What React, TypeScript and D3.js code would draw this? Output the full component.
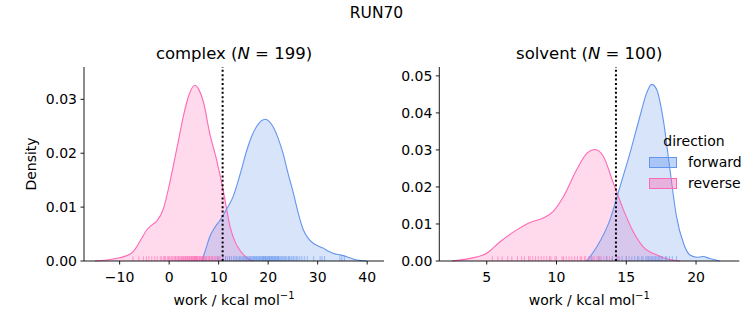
import React from "react";
import * as d3 from "d3";

// ---------- data ----------
const suptitle = "RUN70";
const hueOrder = ["forward", "reverse"];
const hueColors = ["#6495ED", "#FF69B4"];

// complex panel: density curves [work, density]
const complexForwardCurve: [number, number][] = [
  [6.6, 0], [7.4, 0.0022], [8.2, 0.0045], [9.2, 0.0062], [10.3, 0.0076], [11.6, 0.0096],
  [12.9, 0.0119], [14.3, 0.016], [15.7, 0.0206], [16.7, 0.0232], [17.7, 0.025], [18.6, 0.026],
  [19.4, 0.0263], [20.2, 0.0259], [21.0, 0.0249], [22.0, 0.0228], [23.0, 0.02], [24.0, 0.0163],
  [25.1, 0.0126], [26.1, 0.0088], [27.1, 0.0058], [28.1, 0.0042], [29.1, 0.0033], [30.1, 0.0028],
  [31.1, 0.0024], [32.2, 0.0018], [33.2, 0.0014], [34.2, 0.0012], [35.2, 0.001], [36.5, 0.0006],
  [37.9, 0.0002], [39.9, 0],
];
const complexReverseCurve: [number, number][] = [
  [-15, 0], [-12.5, 0.0002], [-10, 0.0006], [-8.5, 0.001], [-7.2, 0.0018], [-5.8, 0.0038],
  [-4.5, 0.0058], [-3.3, 0.0068], [-2.5, 0.0074], [-1.2, 0.0096], [0, 0.014], [0.8, 0.0175],
  [1.8, 0.022], [2.85, 0.0268], [4.0, 0.0308], [5.2, 0.0326], [6.0, 0.0318], [6.9, 0.0296],
  [8.2, 0.0237], [9.6, 0.0187], [10.9, 0.0132], [12.3, 0.0064], [13.3, 0.0036], [14.3, 0.002],
  [15.7, 0.0006], [17, 0],
];
// complex rug samples
const complexForwardRug = [
  9.8, 10.9, 11.4, 11.8, 12.2, 12.6, 13.0, 13.3, 13.6, 13.9, 14.2, 14.4, 14.7, 14.9, 15.1, 15.3,
  15.5, 15.7, 15.9, 16.1, 16.3, 16.4, 16.6, 16.8, 17.0, 17.1, 17.3, 17.4, 17.6, 17.7, 17.9, 18.0,
  18.2, 18.3, 18.5, 18.6, 18.8, 18.9, 19.0, 19.1, 19.3, 19.4, 19.5, 19.6, 19.8, 19.9, 20.1, 20.2,
  20.3, 20.4, 20.6, 20.7, 20.9, 21.0, 21.2, 21.3, 21.5, 21.6, 21.8, 21.9, 22.1, 22.2, 22.4, 22.6,
  22.8, 23.0, 23.2, 23.4, 23.6, 23.8, 24.1, 24.3, 24.6, 24.8, 25.1, 25.4, 25.7, 26.0, 26.4, 26.8,
  27.3, 27.9, 29.2, 30.5, 30.9, 31.4, 34.5, 34.9, 35.4,
];
const complexReverseRug = [
  -7.3, -6.1, -5.2, -4.6, -4.1, -3.5, -2.9, -2.4, -1.8, -1.5, -1.1, -0.9, -0.7, -0.3, -0.1, 0.1,
  0.4, 0.6, 0.8, 1.1, 1.3, 1.4, 1.7, 1.9, 2.0, 2.2, 2.4, 2.5, 2.7, 2.9, 3.0, 3.2, 3.3, 3.4, 3.6,
  3.7, 3.8, 4.0, 4.1, 4.2, 4.4, 4.5, 4.6, 4.7, 4.9, 5.0, 5.1, 5.2, 5.3, 5.4, 5.5, 5.6, 5.7, 5.8,
  6.0, 6.1, 6.2, 6.3, 6.5, 6.6, 6.7, 6.9, 7.0, 7.1, 7.3, 7.5, 7.6, 7.9, 8.1, 8.2, 8.5, 8.7, 8.8,
  9.1, 9.3, 9.5, 9.9, 10.1, 10.3, 10.8, 11.4, 12.2,
];

// solvent panel
const solventForwardCurve: [number, number][] = [
  [12.16, 0], [12.9, 0.0039], [13.83, 0.0111], [14.55, 0.0201], [15.27, 0.0292], [15.98, 0.0391],
  [16.46, 0.0454], [16.82, 0.0477], [17.18, 0.0463], [17.65, 0.0382], [18.13, 0.0247], [18.6, 0.012],
  [19.1, 0.0048], [19.57, 0.0016], [20.05, 0.001], [20.5, 0.0012], [20.97, 0.0007], [21.7, 0],
];
const solventReverseCurve: [number, number][] = [
  [2.5, 0], [3.8, 0.0007], [5.0, 0.0021], [5.95, 0.0052], [7.15, 0.0084], [8.1, 0.0104],
  [9.05, 0.0116], [9.77, 0.0134], [10.5, 0.0174], [11.45, 0.0247], [12.2, 0.0292], [12.76, 0.0301],
  [13.35, 0.0283], [14.07, 0.0211], [14.8, 0.0138], [15.5, 0.0079], [16.2, 0.0039], [17.2, 0.0016],
  [18.1, 0.0004], [18.85, 0],
];
const solventForwardRug = [
  12.5, 13.1, 13.6, 14.0, 14.4, 14.7, 15.0, 15.2, 15.4, 15.6, 15.8, 15.9, 16.1, 16.2, 16.4, 16.5,
  16.6, 16.7, 16.8, 16.9, 17.0, 17.1, 17.2, 17.3, 17.4, 17.5, 17.6, 17.8, 17.9, 18.1, 18.3, 18.6,
];
const solventReverseRug = [
  5.4, 5.8, 6.1, 6.5, 6.8, 7.2, 7.5, 7.7, 8.0, 8.1, 8.3, 8.5, 8.7, 8.9, 9.1, 9.3, 9.5, 9.6, 9.9,
  10.0, 10.4, 10.5, 10.7, 10.9, 11.1, 11.3, 11.5, 11.7, 11.8, 12.0, 12.1, 12.3, 12.4, 12.6, 12.7,
  12.9, 13.0, 13.2, 13.4, 13.6, 13.8, 14.0, 14.3, 14.5, 15.0,
];

const complexXTicks = [-10, 0, 10, 20, 30, 40];
const complexYTicks = [0, 0.01, 0.02, 0.03];
const solventXTicks = [5, 10, 15, 20];
const solventYTicks = [0, 0.01, 0.02, 0.03, 0.04, 0.05];

const panels = [
  {
    name: "complex", n: 199, xDomain: [-17.2, 43.4], yMax: 0.036, cutoff: 10.8,
    curves: [complexForwardCurve, complexReverseCurve], rugs: [complexForwardRug, complexReverseRug],
    xTicks: complexXTicks, yTicks: complexYTicks, showYLabel: true,
  },
  {
    name: "solvent", n: 100, xDomain: [1.6, 23.1], yMax: 0.0524, cutoff: 14.26,
    curves: [solventForwardCurve, solventReverseCurve], rugs: [solventForwardRug, solventReverseRug],
    xTicks: solventXTicks, yTicks: solventYTicks, showYLabel: false,
  },
];

// ---------- layout ----------
const W = 753, H = 325;
const axLefts = [84, 439.3];
const axWidth = 300;
const axTop = 67, axBottom = 261;
const FONT = "DejaVu Sans, sans-serif";

function Panel({ p, left }: { p: typeof panels[number]; left: number }) {
  const x = d3.scaleLinear().domain(p.xDomain).range([left, left + axWidth]);
  const y = d3.scaleLinear().domain([0, p.yMax]).range([axBottom, axTop]);
  const area = d3.area<[number, number]>().x((d) => x(d[0])).y0(y(0)).y1((d) => y(d[1])).curve(d3.curveMonotoneX);
  const line = d3.line<[number, number]>().x((d) => x(d[0])).y((d) => y(d[1])).curve(d3.curveMonotoneX);
  const rugH = (axBottom - axTop) * 0.025;
  const order = [1, 0];
  return (
    <g>
      {order.map((i) => (
        <path key={"a" + i} d={area(p.curves[i]) || ""} fill={hueColors[i]} fillOpacity={0.25} stroke="none" />
      ))}
      {order.map((i) => (
        <path key={"l" + i} d={line(p.curves[i]) || ""} fill="none" stroke={hueColors[i]} strokeWidth={1.1} />
      ))}
      {order.map((i) => (
        <g key={"r" + i}>
          {p.rugs[i].map((v, j) => (
            <line key={j} x1={x(v)} x2={x(v)} y1={axBottom} y2={axBottom - rugH} stroke={hueColors[i]} strokeOpacity={0.6} strokeWidth={1} />
          ))}
        </g>
      ))}
      <line x1={x(p.cutoff)} x2={x(p.cutoff)} y1={axBottom} y2={axTop} stroke="#000" strokeWidth={2} strokeDasharray="2,2.4" />
      {/* spines */}
      <line x1={left} x2={left} y1={axTop} y2={axBottom} stroke="#000" strokeWidth={0.9} />
      <line x1={left} x2={left + axWidth} y1={axBottom} y2={axBottom} stroke="#000" strokeWidth={0.9} />
      {p.xTicks.map((t) => (
        <g key={"xt" + t}>
          <line x1={x(t)} x2={x(t)} y1={axBottom} y2={axBottom + 3.5} stroke="#000" strokeWidth={0.9} />
          <text x={x(t)} y={axBottom + 21} textAnchor="middle" fontSize={14} fontFamily={FONT} fill="#000">
            {t < 0 ? "\u2212" + Math.abs(t) : String(t)}
          </text>
        </g>
      ))}
      {p.yTicks.map((t) => (
        <g key={"yt" + t}>
          <line x1={left - 3.5} x2={left} y1={y(t)} y2={y(t)} stroke="#000" strokeWidth={0.9} />
          <text x={left - 7} y={y(t) + 5} textAnchor="end" fontSize={14} fontFamily={FONT} fill="#000">
            {t.toFixed(2)}
          </text>
        </g>
      ))}
      <text x={left + axWidth / 2} y={305} textAnchor="middle" fontSize={14} fontFamily={FONT} fill="#000">
        work / kcal mol
        <tspan dy={-6} fontSize={10}>{"\u22121"}</tspan>
      </text>
      {p.showYLabel && (
        <text transform={`translate(${36},${(axTop + axBottom) / 2}) rotate(-90)`} textAnchor="middle" fontSize={14} fontFamily={FONT} fill="#000">
          Density
        </text>
      )}
      <text x={left + axWidth / 2} y={59} textAnchor="middle" fontSize={16.5} fontFamily={FONT} fill="#000">
        {p.name} (<tspan fontStyle="italic">N</tspan> = {p.n})
      </text>
    </g>
  );
}

export default function App() {
  return (
    <svg width={W} height={H} style={{ display: "block", position: "absolute", left: 0, top: 0, background: "#fff" }}>
      <rect x={0} y={0} width={W} height={H} fill="#fff" />
      <text x={376.5} y={18} textAnchor="middle" fontSize={15.5} fontFamily={FONT} fill="#000">
        {suptitle}
      </text>
      {panels.map((p, i) => (
        <Panel key={p.name} p={p} left={axLefts[i]} />
      ))}
      {/* legend */}
      <g>
        <text x={694} y={146} textAnchor="middle" fontSize={14} fontFamily={FONT} fill="#000">direction</text>
        {hueOrder.map((h, i) => (
          <g key={h}>
            <rect x={649.5} y={157.5 + i * 21} width={27} height={10} fill={hueColors[i]} fillOpacity={0.4} stroke={hueColors[i]} strokeWidth={1} />
            <text x={688} y={167 + i * 21} fontSize={14} fontFamily={FONT} fill="#000">{h}</text>
          </g>
        ))}
      </g>
    </svg>
  );
}
